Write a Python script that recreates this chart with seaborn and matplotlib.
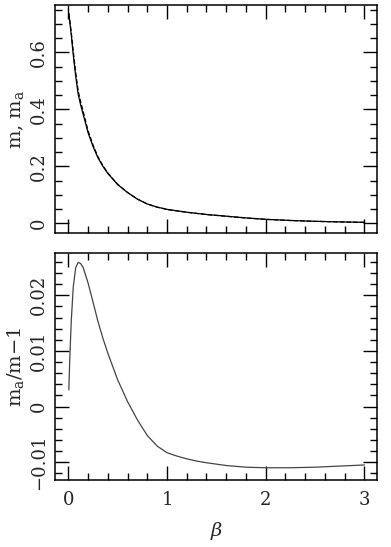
import pandas as pd
import matplotlib
matplotlib.use("Agg")
import matplotlib.pyplot as plt
import seaborn as sns
from matplotlib.ticker import MultipleLocator

# values
beta = [0.005, 0.015, 0.03, 0.05, 0.075, 0.1, 0.125, 0.15, 0.2, 0.25, 0.3, 0.35,
        0.4, 0.5, 0.6, 0.7, 0.8, 0.9, 1.0, 1.1, 1.2, 1.3, 1.4, 1.6, 1.8, 2.0,
        2.25, 2.5, 2.75, 3.0]
m = [0.735, 0.705, 0.66, 0.59, 0.515, 0.452, 0.415, 0.383, 0.318, 0.27, 0.23, 0.2,
     0.175, 0.136, 0.108, 0.085, 0.068, 0.057, 0.049, 0.044, 0.039, 0.035, 0.031,
     0.025, 0.019, 0.014, 0.010, 0.007, 0.005, 0.0035]
m_a = [0.737, 0.711, 0.670, 0.603, 0.528, 0.464, 0.426, 0.393, 0.325, 0.275, 0.2335,
       0.2025, 0.1767, 0.1367, 0.1081, 0.0848, 0.0677, 0.0566, 0.0486, 0.0436,
       0.0386, 0.0347, 0.0307, 0.0247, 0.0188, 0.01385, 0.00989, 0.00692,
       0.00495, 0.00346]
ratio = [0.0030, 0.0088, 0.0155, 0.0215, 0.0250, 0.0259, 0.0257, 0.0250, 0.0222,
         0.0188, 0.0153, 0.0123, 0.0096, 0.0048, 0.0009, -0.0024, -0.0052, -0.0071,
         -0.0083, -0.0089, -0.0094, -0.0098, -0.0101, -0.0106, -0.0109, -0.0110,
         -0.0110, -0.0109, -0.0107, -0.0105]

df = pd.DataFrame({"beta": beta, "m": m, "m_a": m_a, "ratio": ratio})

sns.set_style("ticks")
plt.rcParams["font.family"] = ["DejaVu Serif"]
plt.rcParams["mathtext.fontset"] = "dejavuserif"
plt.rcParams["font.size"] = 13
plt.rcParams["axes.linewidth"] = 1.1

fig = plt.figure(figsize=(3.91, 5.47), dpi=100)
ax1 = fig.add_axes([0.1407, 0.5735, 0.824, 0.4174])
ax2 = fig.add_axes([0.1407, 0.1225, 0.824, 0.415])

sns.lineplot(data=df, x="beta", y="m", ax=ax1, color="black", lw=0.9)
sns.lineplot(data=df, x="beta", y="m_a", ax=ax1, color="black", lw=0.9, linestyle="--")
sns.lineplot(data=df, x="beta", y="ratio", ax=ax2, color="#444444", lw=0.9)

ax1.set_ylim(-0.035, 0.766)
ax2.set_ylim(-0.0132, 0.0276)

for ax in (ax1, ax2):
    ax.set_xlim(-0.135, 3.13)
    ax.xaxis.set_major_locator(MultipleLocator(1))
    ax.xaxis.set_minor_locator(MultipleLocator(0.2))
    ax.tick_params(which="both", direction="in", top=True, right=True,
                   color="black", width=1.0)
    ax.tick_params(which="major", length=10, labelsize=13)
    ax.tick_params(which="minor", length=5)
    ax.tick_params(axis="y", labelrotation=90, pad=5)
    ax.tick_params(axis="x", pad=8)
    for s in ax.spines.values():
        s.set_color("black")

ax1.yaxis.set_minor_locator(MultipleLocator(0.05))
ax1.set_yticks([0, 0.2, 0.4, 0.6])
ax1.set_yticklabels(["0", "0.2", "0.4", "0.6"])
ax2.yaxis.set_minor_locator(MultipleLocator(0.002))
ax2.set_yticks([-0.01, 0, 0.01, 0.02])
ax2.set_yticklabels(["\u22120.01", "0", "0.01", "0.02"])
for ax in (ax1, ax2):
    for lab in ax.get_yticklabels():
        lab.set_va("center")

ax1.tick_params(axis="x", labelbottom=False)
ax1.set_xlabel("")
ax1.set_ylabel(r"m, m$_{\rm a}$", fontsize=14, labelpad=3)
ax2.set_ylabel(r"m$_{\rm a}$/m$-$1", fontsize=14, labelpad=3)
ax2.set_xlabel(r"$\beta$", fontsize=14, labelpad=8)

fig.savefig("out.png", dpi=100)
